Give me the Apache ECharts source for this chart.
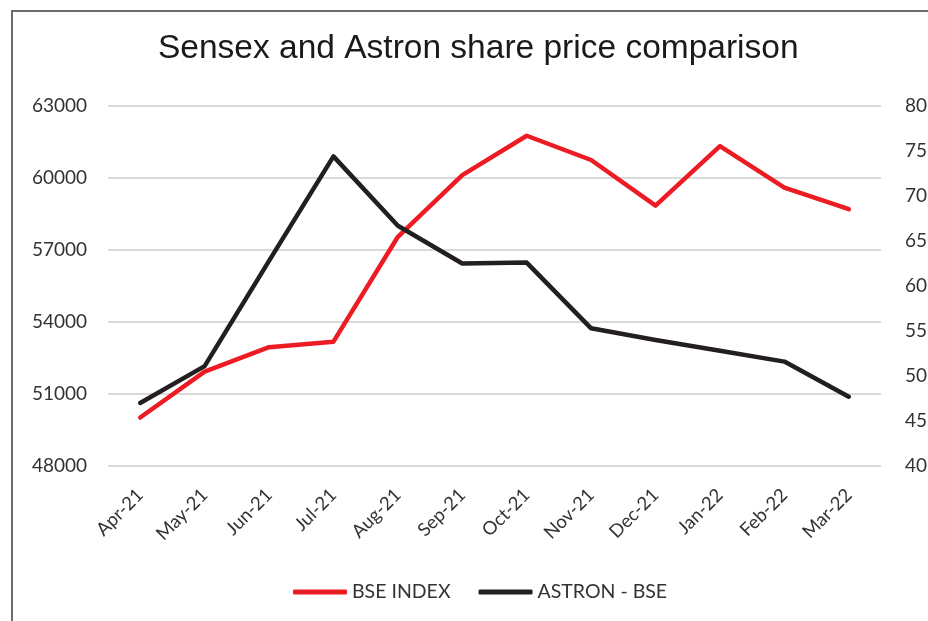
<!DOCTYPE html>
<html>
<head>
<meta charset="utf-8">
<script src="https://cdn.jsdelivr.net/npm/echarts@6/dist/echarts.min.js"></script>
<style>
  html, body { margin: 0; padding: 0; background: #fff; overflow: hidden; }
  #main { width: 928px; height: 621px; position: relative; }
  #frame { position: absolute; left: 11px; top: 10px; width: 917px; height: 611px; box-sizing: border-box;
           border-left: 2px solid #6b6b6b; border-top: 2px solid #6b6b6b; pointer-events: none; }
</style>
</head>
<body>
<div id="main"></div>
<div id="frame"></div>
<script>
var months = ['Apr-21', 'May-21', 'Jun-21', 'Jul-21', 'Aug-21', 'Sep-21',
              'Oct-21', 'Nov-21', 'Dec-21', 'Jan-22', 'Feb-22', 'Mar-22'];
// BSE index (left axis)
var bseIndex = [50020, 51930, 52950, 53180, 57550, 60120, 61760, 60750, 58850, 61330, 59600, 58700];
// Astron share price (right axis)
var astron = [47.0, 51.1, 62.8, 74.4, 66.7, 62.5, 62.6, 55.3, 54.0, 52.8, 51.6, 47.7];

var myChart = echarts.init(document.getElementById('main'));

var labelFont = 'Lato, "Open Sans", sans-serif';

var option = {
    backgroundColor: '#fff',
    animation: false,
    title: {
        text: 'Sensex and Astron share price comparison',
        left: 153,
        top: 27,
        textStyle: { fontFamily: '"Liberation Sans", Arial, sans-serif', fontSize: 33.5, fontWeight: 'normal', color: '#1a1a1a' }
    },
    legend: {
        top: 577,
        left: 288,
        itemWidth: 54,
        itemHeight: 5,
        itemGap: 28,
        icon: 'roundRect',
        textStyle: { fontFamily: labelFont, fontSize: 19.5, color: '#333' },
        data: ['BSE INDEX', 'ASTRON - BSE']
    },
    grid: { left: 108, right: 47, top: 106, bottom: 155, outerBoundsMode: 'none' },
    xAxis: {
        type: 'category',
        data: months,
        boundaryGap: true,
        axisLine: { show: false },
        axisTick: { show: false },
        axisLabel: { rotate: 45, fontFamily: labelFont, fontSize: 18.5, color: '#333', margin: 26, interval: 0 }
    },
    yAxis: [{
        type: 'value',
        min: 48000, max: 63000, interval: 3000,
        axisLine: { show: false },
        axisTick: { show: false },
        axisLabel: { fontFamily: labelFont, fontSize: 19, color: '#333', margin: 21, formatter: function (v) { return String(v); } },
        splitLine: { lineStyle: { color: '#d9d9d9', width: 2 } }
    }, {
        type: 'value',
        min: 40, max: 80, interval: 5,
        position: 'right',
        axisLine: { show: false },
        axisTick: { show: false },
        axisLabel: { fontFamily: labelFont, fontSize: 19, color: '#333', margin: 24 },
        splitLine: { show: false }
    }],
    series: [{
        name: 'BSE INDEX',
        type: 'line',
        yAxisIndex: 0,
        data: bseIndex,
        symbol: 'none',
        color: '#ed1c24',
        lineStyle: { width: 4.5, color: '#ed1c24', cap: 'round', join: 'round' }
    }, {
        name: 'ASTRON - BSE',
        type: 'line',
        yAxisIndex: 1,
        data: astron,
        symbol: 'none',
        color: '#231f20',
        lineStyle: { width: 4.5, color: '#231f20', cap: 'round', join: 'round' }
    }]
};

myChart.setOption(option);
</script>
</body>
</html>
